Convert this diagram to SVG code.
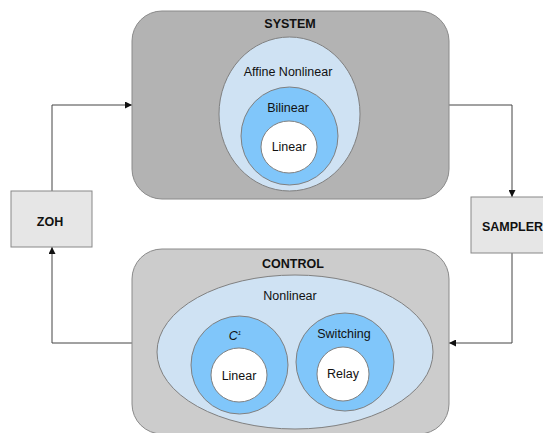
<svg xmlns="http://www.w3.org/2000/svg" width="543" height="433" viewBox="0 0 543 433">
<defs>
<style>
text{font-family:"Liberation Sans",Arial,sans-serif;font-size:12.5px;fill:#111;text-anchor:middle}
.b{font-weight:bold}
.sys{fill:#b3b3b3;stroke:#8a8a8a;stroke-width:1}
.ctl{fill:#cccccc;stroke:#8a8a8a;stroke-width:1}
.lb{fill:#cfe2f3;stroke:#808080;stroke-width:1}
.mb{fill:#80c6fa;stroke:#808080;stroke-width:1}
.wh{fill:#ffffff;stroke:#808080;stroke-width:1}
.box{fill:#e6e6e6;stroke:#888;stroke-width:1}
.ln{fill:none;stroke:#444;stroke-width:1}
</style>
<marker id="ah" viewBox="0 0 10 10" refX="10" refY="5" markerWidth="7" markerHeight="7" markerUnits="userSpaceOnUse" orient="auto">
<path d="M0,0 L10,5 L0,10 z" fill="#111"/>
</marker>
</defs>
<rect width="543" height="433" fill="#ffffff"/>
<g id="connectors">
<polyline class="ln" points="52,191 52,105 132,105" marker-end="url(#ah)"/>
<polyline class="ln" points="449,105 512,105 512,197" marker-end="url(#ah)"/>
<polyline class="ln" points="512,253 512,343 449,343" marker-end="url(#ah)"/>
<polyline class="ln" points="132,343 52,343 52,247" marker-end="url(#ah)"/>
</g>
<g id="system">
<rect class="sys" x="132" y="11" width="317" height="188" rx="30" ry="30"/>
<text class="b" x="290" y="28">SYSTEM</text>
</g>
<g id="affine">
<ellipse class="lb" cx="289.5" cy="114" rx="70.5" ry="77"/>
<text x="288" y="76">Affine Nonlinear</text>
</g>
<g id="bilinear">
<ellipse class="mb" cx="289.5" cy="136" rx="48.5" ry="49"/>
<text x="288" y="112">Bilinear</text>
</g>
<g id="linear-sys">
<ellipse class="wh" cx="289" cy="147" rx="28" ry="26"/>
<text x="289" y="151">Linear</text>
</g>
<g id="control">
<rect class="ctl" x="132" y="249" width="317" height="185" rx="30" ry="30"/>
<text class="b" x="293" y="268">CONTROL</text>
</g>
<g id="nonlinear">
<ellipse class="lb" cx="295" cy="352" rx="138" ry="77"/>
<text x="290" y="300">Nonlinear</text>
</g>
<g id="c1">
<ellipse class="mb" cx="239.5" cy="365" rx="48.5" ry="49"/>
<text x="235" y="340" style="font-style:italic">C<tspan dy="-5" style="font-size:6px">1</tspan></text>
</g>
<g id="linear-ctl">
<ellipse class="wh" cx="239" cy="375" rx="28" ry="27"/>
<text x="239" y="380">Linear</text>
</g>
<g id="switching">
<ellipse class="mb" cx="345" cy="362" rx="49" ry="49"/>
<text x="344" y="338">Switching</text>
</g>
<g id="relay">
<ellipse class="wh" cx="343" cy="374" rx="26" ry="27"/>
<text x="343" y="378">Relay</text>
</g>
<g id="zoh">
<rect class="box" x="11" y="191" width="81" height="56"/>
<text class="b" x="50" y="226">ZOH</text>
</g>
<g id="sampler">
<rect class="box" x="471" y="197" width="82" height="56"/>
<text class="b" x="512.5" y="231">SAMPLER</text>
</g>
</svg>
